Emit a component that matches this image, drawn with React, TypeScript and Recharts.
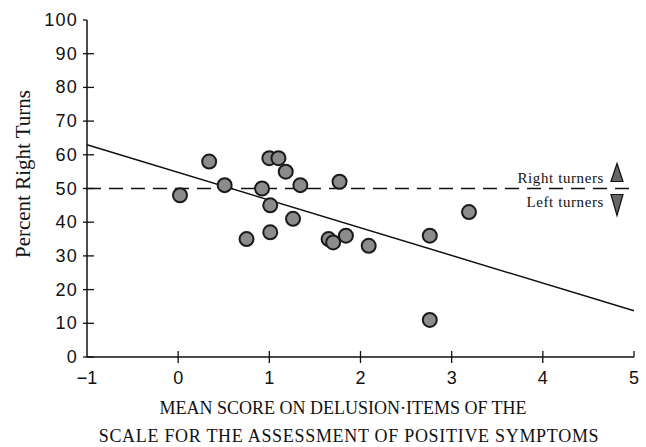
import React from "react";
import { ScatterChart, Scatter, XAxis, YAxis, ReferenceLine } from "recharts";

const scoreValues = [0.02, 0.34, 0.51, 0.75, 0.92, 1.01, 1.01, 1.0, 1.1, 1.18, 1.34, 1.26, 1.77, 1.65, 1.7, 1.84, 2.09, 2.76, 2.76, 3.19];
const rightTurnValues = [48, 58, 51, 35, 50, 45, 37, 59, 59, 55, 51, 41, 52, 35, 34, 36, 33, 36, 11, 43];
const xTicks = [-1, 0, 1, 2, 3, 4, 5];
const yTicks = [0, 10, 20, 30, 40, 50, 60, 70, 80, 90, 100];
const regressionStart = { x: -1, y: 63 };
const regressionEnd = { x: 5, y: 13.7 };
const chanceLevel = 50;
const yTitle = "Percent Right Turns";
const xTitleLines = ["MEAN SCORE ON DELUSION·ITEMS OF THE", "SCALE FOR THE ASSESSMENT OF POSITIVE SYMPTOMS"];
const zoneLabels = ["Right turners", "Left turners"];

const data = scoreValues.map((x, i) => ({ x, y: rightTurnValues[i] }));

const SANS = "'Liberation Sans', Arial, Helvetica, sans-serif";
const SERIF = "'Liberation Serif', 'Times New Roman', Times, serif";

const YTick = (props: any) => {
  const { x, y, payload } = props;
  const axisX = x + 10;
  const v = payload.value;
  return (
    <g>
      <line x1={axisX - 4} x2={v === 100 ? axisX : axisX + 7} y1={y} y2={y} stroke="#111" strokeWidth={1.3} />
      <text x={x + 1} y={y} textAnchor="end" dominantBaseline="central" fontFamily={SANS} fontSize={18} fill="#111" letterSpacing={1.2}>
        {v}
      </text>
    </g>
  );
};

const XTick = (props: any) => {
  const { x, y, payload } = props;
  const v = payload.value;
  const label = v < 0 ? "\u2212" + Math.abs(v) : String(v);
  return (
    <g>
      {v !== -1 && (
        <line x1={x} x2={x} y1={y - 6} y2={v === 5 ? y : y + 6} stroke="#111" strokeWidth={1.3} />
      )}
      <text x={x} y={y + 21} textAnchor="middle" dominantBaseline="central" fontFamily={SANS} fontSize={18} fill="#111">
        {label}
      </text>
    </g>
  );
};

const Dot = (props: any) => {
  const { cx, cy } = props;
  return <circle cx={cx} cy={cy} r={7} fill="#8c8c8c" stroke="#1a1a1a" strokeWidth={2} />;
};

const ZoneLabel = (props: any) => {
  const vb = props.viewBox || {};
  const right = vb.x + vb.width;
  const yy = vb.y;
  const tx = right - 17;
  return (
    <g>
      <text x={right - 30} y={yy - 11} textAnchor="end" dominantBaseline="central" fontFamily={SERIF} fontSize={15} fill="#111" letterSpacing={0.6}>
        {zoneLabels[0]}
      </text>
      <text x={right - 30} y={yy + 13} textAnchor="end" dominantBaseline="central" fontFamily={SERIF} fontSize={15} fill="#111" letterSpacing={0.6}>
        {zoneLabels[1]}
      </text>
      <polygon points={`${tx},${yy - 25} ${tx - 6},${yy - 7} ${tx + 6},${yy - 7}`} fill="#666" stroke="#111" strokeWidth={1.2} />
      <polygon points={`${tx - 6},${yy + 6} ${tx + 6},${yy + 6} ${tx},${yy + 27}`} fill="#666" stroke="#111" strokeWidth={1.2} />
    </g>
  );
};

const XTitle = (props: any) => {
  const vb = props.viewBox || {};
  const left = vb.x;
  const top = vb.y;
  return (
    <g>
      <text x={left + 256} y={top + 51} textAnchor="middle" dominantBaseline="central" fontFamily={SERIF} fontSize={18} fill="#111">
        {xTitleLines[0]}
      </text>
      <text x={left + 262} y={top + 79} textAnchor="middle" dominantBaseline="central" fontFamily={SERIF} fontSize={18} fill="#111" letterSpacing={0.7}>
        {xTitleLines[1]}
      </text>
    </g>
  );
};

const YTitle = () => {
  const tx = 23;
  const ty = 174;
  return (
    <text x={tx} y={ty} transform={`rotate(-90 ${tx} ${ty})`} textAnchor="middle" dominantBaseline="central" fontFamily={SERIF} fontSize={21} fill="#111">
      {yTitle}
    </text>
  );
};

export default function App() {
  return (
    <div style={{ position: "absolute", left: 0, top: 0, width: 646, height: 447, background: "#fff" }}>
      <ScatterChart width={646} height={447} margin={{ top: 20, right: 12, bottom: 60, left: 27 }}>
        <XAxis
          type="number"
          dataKey="x"
          domain={[-1, 5]}
          ticks={xTicks}
          interval={0}
          allowDataOverflow
          height={30}
          tickSize={0}
          tickMargin={0}
          tickLine={false}
          axisLine={{ stroke: "#111", strokeWidth: 1.5 }}
          tick={<XTick />}
          label={{ content: <XTitle /> } as any}
        />
        <YAxis
          type="number"
          dataKey="y"
          domain={[0, 100]}
          ticks={yTicks}
          interval={0}
          allowDataOverflow
          width={60}
          tickSize={0}
          tickMargin={10}
          tickLine={false}
          axisLine={{ stroke: "#111", strokeWidth: 1.5 }}
          tick={<YTick />}
          label={{ content: <YTitle /> } as any}
        />
        <ReferenceLine
          y={chanceLevel}
          stroke="#111"
          strokeWidth={1.5}
          strokeDasharray="14 8"
          label={{ content: <ZoneLabel /> } as any}
        />
        <ReferenceLine segment={[regressionStart, regressionEnd]} stroke="#111" strokeWidth={1.5} />
        <Scatter data={data} shape={<Dot />} isAnimationActive={false} />
      </ScatterChart>
    </div>
  );
}
